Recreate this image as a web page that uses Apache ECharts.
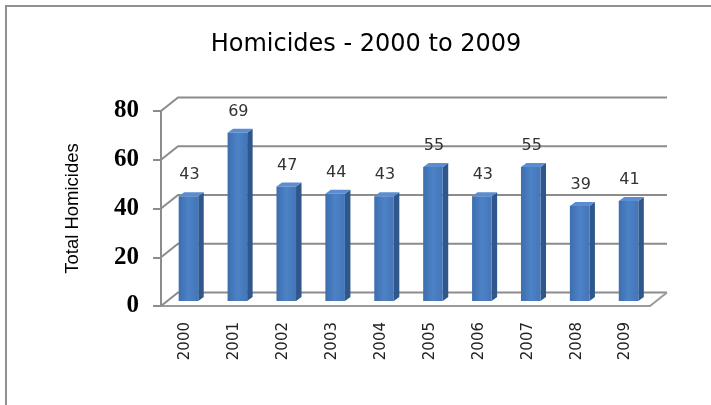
<!DOCTYPE html>
<html>
<head>
<meta charset="utf-8">
<script src="https://cdn.jsdelivr.net/npm/echarts@6/dist/echarts.min.js"></script>
<style>
html,body{margin:0;padding:0;background:#fff;}
#c{width:711px;height:405px;}
</style>
</head>
<body>
<div id="c"></div>
<script>
// ---- data ----
const titleText = 'Homicides - 2000 to 2009';
const yAxisTitle = 'Total Homicides';
const years = ['2000','2001','2002','2003','2004','2005','2006','2007','2008','2009'];
const homicides = [43, 69, 47, 44, 43, 55, 43, 55, 39, 41];
const yTicks = [0, 20, 40, 60, 80];

// ---- 3D styling constants ----
const DX = 17, DY = -13.5;   // wall depth offset
const BX = 3, BY = -5;       // bar front face offset from front plane
const SX = 5.5, SY = -4;     // bar depth
const BAR_FRAC = 0.4;        // bar width as fraction of category width

function wallLines(params, api) {
  const cs = params.coordSys;
  const v = api.value(1);
  const y = api.coord([0, v])[1];
  const x0 = cs.x, x1 = cs.x + cs.width;
  const children = [{
    type: 'polyline',
    shape: { points: [[x0, y], [x0 + DX, y + DY], [x1 + DX, y + DY]] },
    style: { stroke: '#8c8c8c', lineWidth: 2, fill: null }
  }];
  if (v === 0) {
    children.push({
      type: 'line',
      shape: { x1: x1, y1: y, x2: x1 + DX, y2: y + DY },
      style: { stroke: '#9a9a9a', lineWidth: 2 }
    });
  }
  return { type: 'group', children: children };
}

function bar3d(params, api) {
  const i = api.value(0), v = api.value(1);
  const top = api.coord([i, v]);
  const base = api.coord([i, 0]);
  const w = api.size([1, 0])[0] * BAR_FRAC;
  const l = top[0] + BX - w / 2, r = top[0] + BX + w / 2;
  const yt = top[1] + BY, yb = base[1] + BY;
  return {
    type: 'group',
    children: [
      { type: 'polygon', shape: { points: [[r, yt], [r + SX, yt + SY], [r + SX, yb + SY], [r, yb]] },
        style: { fill: '#2f578c' } },
      { type: 'polygon', shape: { points: [[l, yt], [l + SX, yt + SY], [r + SX, yt + SY], [r, yt]] },
        style: { fill: '#5a8dd2' } },
      { type: 'rect', shape: { x: l, y: yt, width: w, height: yb - yt },
        style: { fill: new echarts.graphic.LinearGradient(0, 0, 1, 0, [
          { offset: 0, color: '#3d6eae' },
          { offset: 0.5, color: '#4c82c6' },
          { offset: 1, color: '#4476b8' }
        ]) } },
      { type: 'text', style: { text: String(v), x: (l + r) / 2 + 1, y: yt - 21,
        align: 'center', verticalAlign: 'middle',
        fontFamily: 'DejaVu Sans', fontSize: 16, fill: '#333' } }
    ]
  };
}

const chart = echarts.init(document.getElementById('c'));
chart.setOption({
  animation: false,
  backgroundColor: '#fff',
  graphic: [{
    type: 'rect', silent: true,
    shape: { x: 6, y: 6, width: 760, height: 460 },
    style: { fill: null, stroke: '#909090', lineWidth: 2 }
  }],
  title: {
    text: titleText,
    left: 361, top: 28, textAlign: 'center',
    textStyle: { fontFamily: 'DejaVu Sans', fontSize: 24, fontWeight: 'normal', color: '#000' }
  },
  grid: { left: 161, top: 111, width: 489, height: 195 },
  xAxis: {
    type: 'category', data: years,
    axisLine: { show: true, lineStyle: { color: '#9a9a9a', width: 2 } },
    axisTick: { show: false },
    axisLabel: { rotate: 90, margin: 16, fontFamily: 'DejaVu Sans', fontSize: 15, color: '#222' },
    splitLine: { show: false }
  },
  yAxis: {
    type: 'value', min: 0, max: 80, interval: 20,
    name: yAxisTitle, nameLocation: 'middle', nameGap: 79,
    nameTextStyle: { fontFamily: 'Liberation Sans', fontSize: 18.5, color: '#000' },
    axisLine: { show: true, lineStyle: { color: '#8c8c8c', width: 2 } },
    axisTick: { show: true, length: 8, lineStyle: { color: '#8c8c8c', width: 2 } },
    splitLine: { show: false },
    axisLabel: { margin: 22, fontFamily: 'Liberation Serif', fontWeight: 'bold', fontSize: 25, color: '#000' }
  },
  series: [
    { type: 'custom', data: yTicks.map(v => [0, v]), renderItem: wallLines, z: 1, silent: true },
    { type: 'custom', data: homicides.map((v, i) => [i, v]), renderItem: bar3d, z: 3 }
  ]
});
</script>
</body>
</html>
